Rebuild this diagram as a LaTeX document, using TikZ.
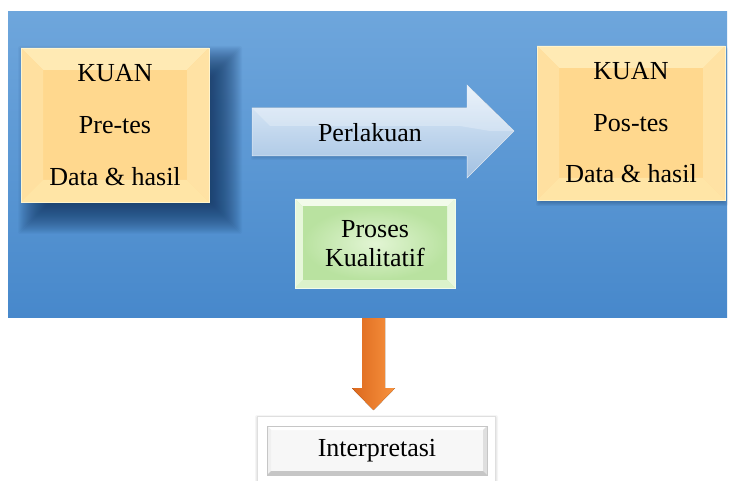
\documentclass[tikz,border=0pt]{standalone}
\usepackage{fontspec}
\setmainfont{Liberation Serif}
\definecolor{bgtop}{HTML}{6EA6DC}
\definecolor{bgbot}{HTML}{4788CB}
\definecolor{orface}{HTML}{FFD88E}
\definecolor{orbtop}{HTML}{FFEAB4}
\definecolor{orbleft}{HTML}{FFE0A0}
\definecolor{orbright}{HTML}{FFE2A4}
\definecolor{orbbot}{HTML}{FFE5A6}
\definecolor{oredge}{HTML}{FFF4CC}
\definecolor{grface}{HTML}{C9EDB3}
\definecolor{grin}{HTML}{E2F5D4}
\definecolor{grout}{HTML}{B9E2A0}
\definecolor{grbtop}{HTML}{F2FBEA}
\definecolor{grbleft}{HTML}{E6F7DA}
\definecolor{grbright}{HTML}{E9F8DE}
\definecolor{grbbot}{HTML}{DCF2CB}
\definecolor{artop}{HTML}{E3EEF9}
\definecolor{arbot}{HTML}{A2C1E2}
\definecolor{ordark}{HTML}{DC681D}
\definecolor{orlight}{HTML}{F8933F}
\definecolor{shadowc}{HTML}{10305A}
\newcommand\mybevel[5]{%
 \path (path picture bounding box.north west) coordinate (bNW)
       (path picture bounding box.north east) coordinate (bNE)
       (path picture bounding box.south west) coordinate (bSW)
       (path picture bounding box.south east) coordinate (bSE);
 \fill[#2] (bNW) -- (bNE) -- ([xshift=-#1,yshift=-#1]bNE) -- ([xshift=#1,yshift=-#1]bNW) -- cycle;
 \fill[#3] (bNW) -- ([xshift=#1,yshift=-#1]bNW) -- ([xshift=#1,yshift=#1]bSW) -- (bSW) -- cycle;
 \fill[#4] (bNE) -- ([xshift=-#1,yshift=-#1]bNE) -- ([xshift=-#1,yshift=#1]bSE) -- (bSE) -- cycle;
 \fill[#5] (bSW) -- ([xshift=#1,yshift=#1]bSW) -- ([xshift=-#1,yshift=#1]bSE) -- (bSE) -- cycle;
}
% soft shadow: x1 y1 x2 y2, radius, opacity per layer, colour
\newcommand\softshadow[7]{%
 \foreach \k in {-#5,...,#5} {%
   \fill[#7, opacity=#6, rounded corners=2pt]
     (#1-\k,#2-\k) rectangle (#3+\k,#4+\k);
 }}
\begin{document}
\begin{tikzpicture}[x=1pt,y=-1pt,
  bgbox/.style={minimum width=719pt, minimum height=306pt, inner sep=0pt,
    top color=bgtop, bottom color=bgbot, draw=none},
  kuanbox/.style={minimum width=188pt, minimum height=154pt, inner sep=0pt,
    align=center, fill=orface, draw=oredge, line width=0.8pt,
    path picture={\mybevel{22pt}{orbtop}{orbleft}{orbright}{orbbot}}},
  greenbox/.style={minimum width=160pt, minimum height=89pt, inner sep=0pt,
    align=center, fill=grface, draw=grbtop, line width=0.8pt,
    font=\fontsize{26}{29}\selectfont,
    path picture={\mybevel{8pt}{grbtop}{grbleft}{grbright}{grbbot}
      \shade[inner color=grin, outer color=grout]
        ([xshift=8pt,yshift=-8pt]path picture bounding box.north west) rectangle
        ([xshift=-8pt,yshift=8pt]path picture bounding box.south east);}},
  interpbox/.style={minimum width=220pt, minimum height=49pt, inner sep=0pt,
    fill=gray!6, draw=gray!45, line width=0.6pt, font=\fontsize{26}{30}\selectfont,
    path picture={\mybevel{4pt}{white}{gray!12}{gray!25}{gray!45}}},
  bluearrow/.style={top color=artop, bottom color=arbot, draw=white!70!arbot, line width=0.5pt},
  orarrow/.style={left color=ordark, right color=orlight, draw=none},
  lbl/.style={font=\fontsize{26}{30}\selectfont, inner sep=0pt}
]
\useasboundingbox (0,0) rectangle (729,481);
\clip (0,0) rectangle (729,481);
\fill[white] (0,0) rectangle (729,481);

% background panel
\node[bgbox] (bg) at (367.5,165) {};

% shadows
\softshadow{34}{62}{226}{218}{16}{0.04}{shadowc}
\softshadow{539}{50}{725}{203}{3}{0.07}{shadowc}

% left box
\node[kuanbox, font=\fontsize{26}{52}\selectfont]
  (pre) at (115,125) {KUAN\\Pre-tes\\Data \& hasil};

% right box
\node[kuanbox, font=\fontsize{26}{51.5}\selectfont]
  (post) at (631,123) {KUAN\\Pos-tes\\Data \& hasil};

% Perlakuan arrow
\softshadow{253}{111}{466}{158}{2}{0.05}{shadowc}
\filldraw[bluearrow] (252,108) -- (467,108) -- (467,85) -- (514,131) -- (467,178) -- (467,156) -- (252,156) -- cycle;
\fill[white, opacity=0.25] (252,108) -- (467,108) -- (467,85) -- (514,131) -- (490,131) -- (460,126) -- (270,126) -- cycle;
\node[lbl] (perl) at (370,133) {Perlakuan};

% green box
\node[greenbox] (kual) at (375,243.5) {Proses\\Kualitatif};

% Interpretasi box
\softshadow{258}{418}{495}{500}{3}{0.04}{black}
\node[interpbox] (interp) at (377,450.5) {};
\fill[white, draw=gray!25, line width=0.5pt]
  ([xshift=-9pt,yshift=9pt]interp.north west) rectangle ([xshift=8pt,yshift=-20pt]interp.south east);
\node[interpbox] at (interp.center) {Interpretasi};

% orange arrow
\coordinate (oa) at ([xshift=-3.5pt]bg.south -| interp.north);
\fill[orarrow] ([xshift=-11.5pt]oa) -- ++(23,0) -- ++(0,70) -- ++(10,0) -- ++(-21.5,22) -- ++(-21.5,-22) -- ++(10,0) -- cycle;
\end{tikzpicture}
\end{document}
